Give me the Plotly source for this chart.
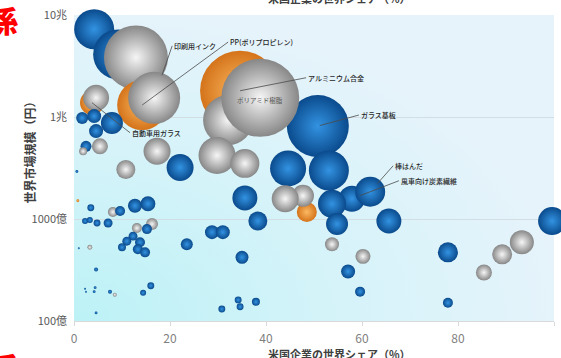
import base64
import math
import plotly.graph_objects as go

# US companies' world share (%) per product
share = [4.2, 9.2, 34.6, 32.1, 50.8, 38.8, 12.9, 14.2, 16.7, 3.75,
         4.6, 1.7, 4.2, 7.9, 4.6, 2.5, 5.4, 1.9, 10.8, 17.3,
         22.1, 29.8, 35.6, 44.6, 53.1, 35.6, 48.5, 47.7, 44.0, 38.3,
         57.9, 53.75, 54.8, 61.7, 65.6, 99.6, 53.75, 60.2, 57.1, 59.6,
         77.9, 89.2, 93.3, 85.4, 77.9, 35.0, 28.75, 31.0, 23.5, 34.2,
         34.6, 30.8, 37.9, 0.8, 3.5, 8.1, 9.6, 12.7, 15.4, 2.3,
         3.3, 4.8, 7.1, 16.25, 13.1, 15.2, 12.3, 11.0, 13.75, 10.0,
         13.3, 14.8, 1.0, 3.3, 4.6, 2.3, 2.5, 4.4, 4.2, 7.5,
         8.5, 14.4, 16.0, 4.6, 0.6]

# World market size (億円)
market = [72600, 41100, 18100, 9330, 8150, 15400, 38400, 13100, 15400, 13800,
          15400, 9770, 10200, 8730, 7270, 5160, 5160, 4610, 3060, 4610,
          3200, 4200, 3510, 3130, 2990, 1610, 1170, 1690, 1580, 955,
          1580, 1410, 892, 1850, 955, 955, 565, 430, 306, 194,
          471, 450, 592, 299, 151, 421, 743, 743, 565, 161,
          138, 131, 154, 1510, 1290, 1170, 1200, 1350, 1410, 955,
          977, 913, 913, 892, 815, 796, 679, 606, 592, 528,
          505, 471, 516, 528, 320, 207, 194, 212, 194, 194,
          181, 189, 222, 120, 2920]

# Bubble value (area-proportional)
bubble = [400, 625, 1600, 625, 961, 1521, 1024, 625, 676, 144,
          169, 36, 49, 121, 49, 30, 64, 16, 90, 182,
          182, 342, 210, 324, 400, 156, 100, 121, 182, 90,
          169, 196, 121, 225, 156, 196, 49, 56, 49, 25,
          100, 100, 144, 64, 25, 42, 49, 49, 36, 12,
          12, 12, 16, 2, 12, 25, 25, 49, 56, 9,
          9, 12, 20, 36, 25, 25, 20, 20, 25, 16,
          25, 25, 1, 6, 4, 1, 1, 2, 2, 4,
          4, 9, 12, 2, 2]

kind = ["blue", "blue", "orange", "gray", "blue", "gray", "gray", "orange", "gray", "orange",
        "gray", "blue", "blue", "blue", "blue", "blue", "gray", "gray", "gray", "gray",
        "blue", "gray", "gray", "blue", "blue", "blue", "orange", "gray", "gray", "blue",
        "blue", "blue", "blue", "blue", "blue", "blue", "gray", "gray", "blue", "blue",
        "blue", "gray", "gray", "gray", "blue", "blue", "blue", "blue", "blue", "blue",
        "blue", "blue", "blue", "orange", "blue", "gray", "blue", "blue", "blue", "blue",
        "blue", "blue", "blue", "gray", "gray", "blue", "blue", "blue", "blue", "blue",
        "blue", "blue", "blue", "gray", "blue", "blue", "blue", "blue", "blue", "blue",
        "gray", "blue", "blue", "blue", "blue"]

# Product labels: (text, point index, x offset px, y offset px, standoff px)
labels = [
    ("印刷用インク", 8, 18, -52, 24),
    ("PP(ポリプロピレン)", 7, 86, -63, 0),
    ("アルミニウム合金", 2, 66, -13, 0),
    ("自動車用ガラス", 9, 38, 30, 0),
    ("ガラス基板", 4, 41, -11, 2),
    ("棒はんだ", 33, 23, -26, 11),
    ("風車向け炭素繊維", 30, 47, -18, 8),
]
inner_label = ("ポリアミド樹脂", 5)

y_tickvals = [100, 1000, 10000, 100000]
y_ticktext = ["100億", "1000億", "1兆", "10兆"]
x_tickvals = [0, 20, 40, 60, 80, 100]

FONT = "Noto Sans CJK JP"
EDGE = {"blue": "#0a4a8c", "gray": "#878787", "orange": "#d4731a"}
CORE = {"blue": "#3393e2", "gray": "#f6f6f6", "orange": "#fbb962"}

fig = go.Figure(go.Scatter(
    x=share, y=market, mode="markers", cliponaxis=False,
    marker=dict(
        size=bubble, sizemode="area", sizeref=0.5,
        color=[EDGE[k] for k in kind],
        gradient=dict(type="radial", color=[CORE[k] for k in kind]),
        line=dict(width=0), opacity=1,
    ),
    hoverinfo="skip",
))

annotations = []
# annotation y on a log axis is given in log10 units
for text, i, ax, ay, so in labels:
    annotations.append(dict(
        x=share[i], y=math.log10(market[i]), xref="x", yref="y", text=text,
        showarrow=True, arrowhead=0, arrowwidth=0.8, arrowcolor="#4a4a4a",
        ax=ax, ay=ay, standoff=so, xanchor="left", yanchor="middle",
        font=dict(family=FONT, size=7, color="#262626", weight=500),
    ))
annotations.append(dict(
    x=share[inner_label[1]], y=math.log10(market[inner_label[1]]), text=inner_label[0],
    showarrow=False, yshift=-2, font=dict(family=FONT, size=6.5, color="#555555"),
))
# axis titles and surrounding slide text
annotations += [
    dict(xref="paper", yref="paper", x=-0.092, y=0.56, text="世界市場規模（円）",
         textangle=-90, showarrow=False, xanchor="center", yanchor="middle",
         font=dict(family=FONT, size=12, color="#404040", weight=700)),
    dict(xref="paper", yref="paper", x=0.554, y=-0.108, text="米国企業の世界シェア（%）",
         showarrow=False, xanchor="center", yanchor="middle",
         font=dict(family=FONT, size=11, color="#404040", weight=700)),
    dict(xref="paper", yref="paper", x=0.554, y=1.056, text="米国企業の世界シェア（%）",
         showarrow=False, xanchor="center", yanchor="middle",
         font=dict(family=FONT, size=11, color="#404040", weight=700)),
    dict(xref="paper", yref="paper", x=(3 - 74) / 480, y=(321 - 19) / 306, text="係",
         showarrow=False, xanchor="center", yanchor="middle",
         font=dict(family=FONT, size=30, color="#ff0000", weight=900)),
    dict(xref="paper", yref="paper", x=(3 - 74) / 480, y=(321 - 366) / 306, text="係",
         showarrow=False, xanchor="center", yanchor="middle",
         font=dict(family=FONT, size=30, color="#ff0000", weight=900)),
]

# soft cyan-to-pale-blue plot background
svg = ('<svg xmlns="http://www.w3.org/2000/svg" width="480" height="306" '
       'viewBox="0 0 480 306" preserveAspectRatio="none"><defs>'
       '<radialGradient id="g" cx="0" cy="1" r="1.05" gradientUnits="objectBoundingBox">'
       '<stop offset="0" stop-color="#bcf2f6"/><stop offset="0.55" stop-color="#d6f3f9"/>'
       '<stop offset="1" stop-color="#e7f3fb"/></radialGradient></defs>'
       '<rect width="480" height="306" fill="url(#g)"/></svg>')
bg = "data:image/svg+xml;base64," + base64.b64encode(svg.encode()).decode()

fig.update_layout(
    width=561, height=358,
    margin=dict(l=74, r=7, t=15, b=37),
    paper_bgcolor="white", plot_bgcolor="rgba(0,0,0,0)",
    showlegend=False,
    images=[dict(source=bg, xref="paper", yref="paper", x=0, y=1, sizex=1, sizey=1,
                 sizing="stretch", xanchor="left", yanchor="top", layer="below")],
    annotations=annotations,
    xaxis=dict(range=[0, 100], tickvals=x_tickvals, showgrid=False, zeroline=False,
               ticks="outside", ticklen=4, tickcolor="#d9d9d9", showline=True,
               linecolor="#d9d9d9", ticklabelstandoff=3,
               tickfont=dict(family=FONT, size=12, color="#7f7f7f")),
    yaxis=dict(type="log", range=[2, 5], tickvals=y_tickvals, ticktext=y_ticktext,
               showgrid=True, gridcolor="#d3dde4", zeroline=False, ticks="",
               ticklabelstandoff=6,
               tickfont=dict(family=FONT, size=11, color="#595959")),
)

fig.write_html("out.html")
